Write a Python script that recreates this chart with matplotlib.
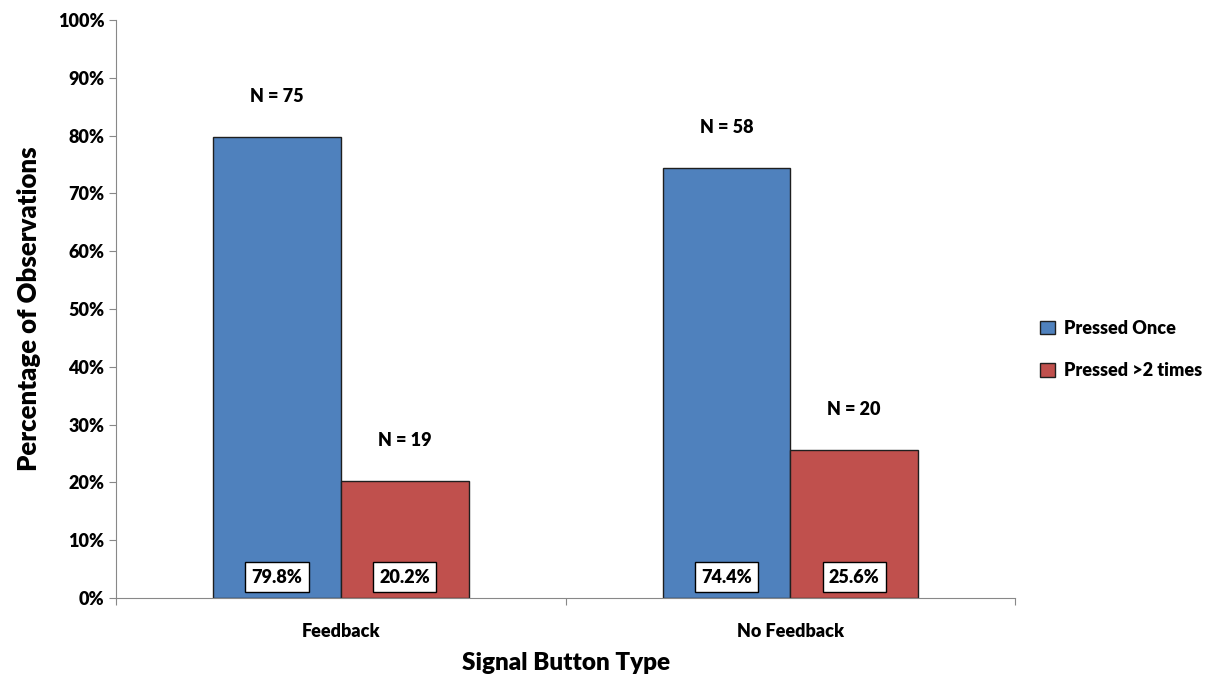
import numpy as np
import matplotlib.pyplot as plt

categories = ['Feedback', 'No Feedback']
once_pct = [79.8, 74.4]
twice_pct = [20.2, 25.6]
once_n = [75, 58]
twice_n = [19, 20]
series_names = ['Pressed Once', 'Pressed >2 times']

plt.rcParams['font.family'] = ['Lato', 'DejaVu Sans']
plt.rcParams['font.weight'] = 'heavy'
wt = 'heavy'

fig = plt.figure(figsize=(12.32, 6.79), dpi=100)
ax = fig.add_axes([0.0942, 0.1193, 0.7298, 0.8512])

x = np.arange(len(categories)) + 0.5
w = 0.284
b1 = ax.bar(x - w / 2, once_pct, w, color='#4f81bd', edgecolor='#1f1f1f', linewidth=1, label=series_names[0])
b2 = ax.bar(x + w / 2, twice_pct, w, color='#c0504d', edgecolor='#1f1f1f', linewidth=1, label=series_names[1])

box = dict(boxstyle='square,pad=0.35', facecolor='white', edgecolor='black', linewidth=1)
for bars, vals, ns in [(b1, once_pct, once_n), (b2, twice_pct, twice_n)]:
    for r, v, n in zip(bars, vals, ns):
        cx = r.get_x() + r.get_width() / 2
        ax.text(cx, 3.6, f'{v:.1f}%', ha='center', va='center', fontsize=13, fontweight=wt, bbox=box)
        ax.text(cx, v + 7.0, f'N = {n}', ha='center', va='center', fontsize=13, fontweight=wt)

ax.set_xlim(0, 2)
ax.set_ylim(0, 100)
ax.set_yticks(np.arange(0, 101, 10))
ax.set_yticklabels([f'{t}%' for t in range(0, 101, 10)], fontsize=13, fontweight=wt)
ax.set_xticks([0, 1, 2])
ax.set_xticklabels([])
ax.set_xticks(x, minor=True)
ax.set_xticklabels(categories, minor=True, fontsize=13, fontweight=wt)
ax.tick_params(axis='x', which='minor', length=0, pad=18)
ax.tick_params(axis='both', which='major', direction='out', length=5, color='#888888')
for s in ['top', 'right']:
    ax.spines[s].set_visible(False)
for s in ['left', 'bottom']:
    ax.spines[s].set_color('#888888')

ax.set_xlabel('Signal Button Type', fontsize=17.5, fontweight=wt, labelpad=9)
ax.set_ylabel('Percentage of Observations', fontsize=18.5, fontweight=wt, labelpad=12)

ax.legend(loc='center left', bbox_to_anchor=(1.01, 0.43), frameon=False, fontsize=13,
          handlelength=0.8, handleheight=0.8, labelspacing=1.4, handletextpad=0.5)

fig.savefig('out.png', dpi=100)
